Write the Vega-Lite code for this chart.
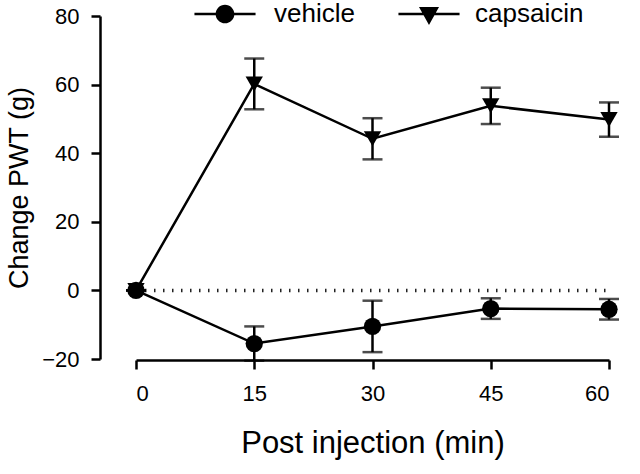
{
  "$schema": "https://vega.github.io/schema/vega-lite/v6.json",
  "autosize": {"type": "none"},
  "padding": {"left": 136, "top": 16, "right": 31, "bottom": 115},
  "width": 473,
  "height": 343,
  "background": "white",
  "config": {
    "view": {"stroke": null},
    "font": "Liberation Sans",
    "axis": {"grid": false, "domainColor": "black", "tickColor": "black", "labelColor": "black", "titleColor": "black", "domainWidth": 2.5, "tickWidth": 2.5, "tickSize": 9, "labelFont": "Liberation Sans", "titleFont": "Liberation Sans", "titleFontWeight": "normal", "labelFontSize": 22, "titleFontSize": 27},
    "legend": {"title": null, "orient": "none", "symbolSize": 676, "labelFontSize": 26, "labelColor": "black", "labelFont": "Liberation Sans"}
  },
  "data": {
    "values": [
      {"time": 0, "group": "vehicle", "mean": 0, "sem": 0},
      {"time": 15, "group": "vehicle", "mean": -15.5, "sem": 5},
      {"time": 30, "group": "vehicle", "mean": -10.5, "sem": 7.5},
      {"time": 45, "group": "vehicle", "mean": -5.3, "sem": 3},
      {"time": 60, "group": "vehicle", "mean": -5.5, "sem": 3},
      {"time": 0, "group": "capsaicin", "mean": 0, "sem": 0},
      {"time": 15, "group": "capsaicin", "mean": 60.2, "sem": 7.4},
      {"time": 30, "group": "capsaicin", "mean": 44.2, "sem": 6},
      {"time": 45, "group": "capsaicin", "mean": 53.8, "sem": 5.3},
      {"time": 60, "group": "capsaicin", "mean": 49.8, "sem": 5}
    ]
  },
  "encoding": {
    "x": {"field": "time", "type": "quantitative", "scale": {"domain": [0, 60], "nice": false, "zero": false},
      "axis": {"values": [0, 15, 30, 45, 60], "title": "Post injection (min)", "labelPadding": 14, "titlePadding": 24, "titleFontSize": 31, "offset": 1}},
    "y": {"field": "mean", "type": "quantitative", "scale": {"domain": [-20, 80], "nice": false},
      "axis": {"values": [-20, 0, 20, 40, 60, 80], "title": "Change PWT (g)", "offset": 36, "labelPadding": 12, "titlePadding": 8}}
  },
  "layer": [
    {
      "data": {"values": [{"y0": 0, "xa": 0, "xb": 60}]},
      "mark": {"type": "rule", "strokeDash": [1.5, 7.5], "strokeWidth": 3.5, "color": "#222"},
      "encoding": {"x": {"field": "xa", "type": "quantitative"}, "x2": {"field": "xb"}, "y": {"field": "y0", "type": "quantitative"}}
    },
    {
      "mark": {"type": "errorbar", "ticks": true, "size": 20, "thickness": 2.5, "color": "black"},
      "encoding": {"yError": {"field": "sem"}, "detail": {"field": "group"}}
    },
    {
      "mark": {"type": "line", "color": "black", "strokeWidth": 2.5},
      "encoding": {"detail": {"field": "group"}}
    },
    {
      "mark": {"type": "point", "filled": true, "color": "black", "opacity": 1, "size": 300},
      "encoding": {"shape": {"field": "group", "type": "nominal", "scale": {"domain": ["vehicle", "capsaicin"], "range": ["circle", "triangle-down"]}, "legend": null}}
    },
    {
      "transform": [{"filter": "datum.group === 'vehicle'"}],
      "mark": {"type": "point", "filled": true, "color": "black", "opacity": 0},
      "encoding": {"shape": {"field": "group", "type": "nominal", "scale": {"domain": ["vehicle"], "range": ["M-2.35,-0.1L2.35,-0.1L2.35,0.1L-2.35,0.1ZM-0.72,0A0.72,0.72 0 1,1 0.72,0A0.72,0.72 0 1,1 -0.72,0Z"]},
        "legend": {"legendX": 75, "legendY": -16, "labelOffset": 35,
          "encode": {"symbols": {"update": {"fill": {"value": "black"}, "strokeWidth": {"value": 0}, "opacity": {"value": 1}, "fillOpacity": {"value": 1}}}}}}}
    },
    {
      "transform": [{"filter": "datum.group === 'capsaicin'"}],
      "mark": {"type": "point", "filled": true, "color": "black", "opacity": 0},
      "encoding": {"shape": {"field": "group", "type": "nominal", "scale": {"domain": ["capsaicin"], "range": ["M-2.35,-0.1L2.35,-0.1L2.35,0.1L-2.35,0.1ZM-0.77,-0.54L0.77,-0.54L0,0.85Z"]},
        "legend": {"legendX": 279, "legendY": -16, "labelOffset": 32,
          "encode": {"symbols": {"update": {"fill": {"value": "black"}, "strokeWidth": {"value": 0}, "opacity": {"value": 1}, "fillOpacity": {"value": 1}}}}}}}
    }
  ],
  "resolve": {"scale": {"shape": "independent"}, "legend": {"shape": "independent"}}
}
